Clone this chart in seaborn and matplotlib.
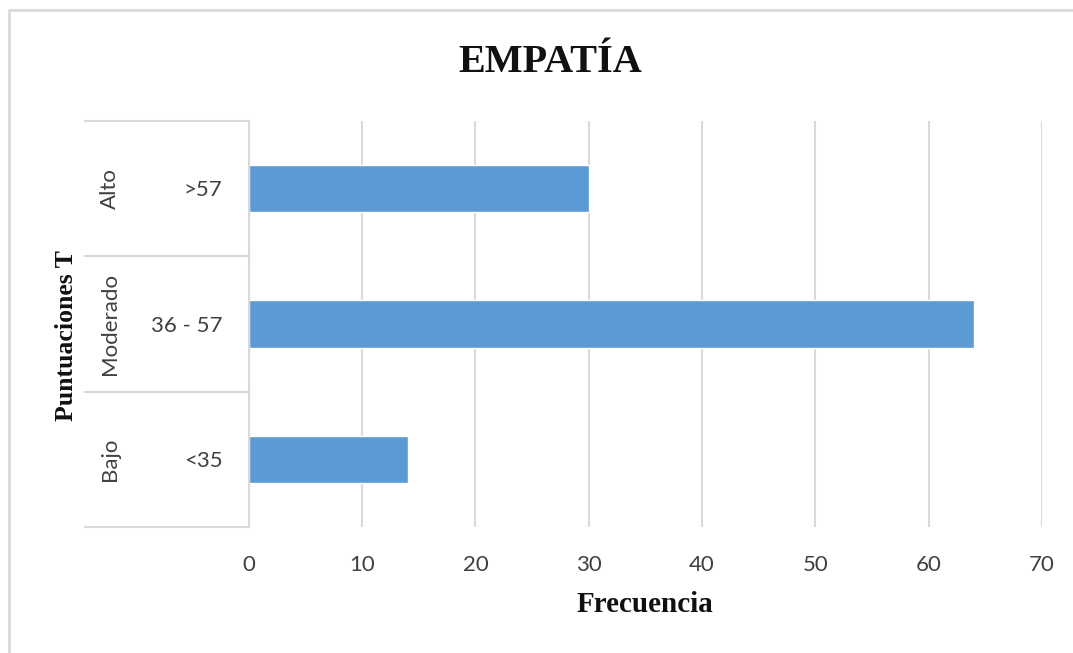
import pandas as pd
import matplotlib.pyplot as plt
import matplotlib.transforms as mtransforms
from matplotlib.patches import Rectangle
import seaborn as sns

# data (top to bottom)
niveles = ["Alto", "Moderado", "Bajo"]
rangos = [">57", "36 - 57", "<35"]
frecuencia = [30, 64, 14]

df = pd.DataFrame({"nivel": niveles, "rango": rangos, "frecuencia": frecuencia})

sns.set_theme(style="white")
plt.rcParams["font.family"] = ["Lato", "DejaVu Sans"]

fig = plt.figure(figsize=(10.73, 6.53), dpi=100)
ax = fig.add_axes([0.232, 0.193, 0.739, 0.622])

sns.barplot(data=df, x="frecuencia", y="rango", orient="h", color="#5b9bd5",
            saturation=1, width=0.35, ax=ax)

ax.set_xlim(0, 70)
ax.set_xticks(range(0, 71, 10))
ax.set_ylim(2.5, -0.5)
ax.grid(axis="x", color="#d9d9d9", linewidth=1.5)
ax.set_axisbelow(True)
for side in ["top", "right", "bottom"]:
    ax.spines[side].set_visible(False)
ax.spines["left"].set_color("#d9d9d9")
ax.spines["left"].set_linewidth(1.5)

ax.tick_params(axis="x", length=0, pad=20, labelsize=16, labelcolor="#404040")
ax.tick_params(axis="y", length=0, pad=19, labelsize=16, labelcolor="#404040")

ax.set_xlabel("Frecuencia", family="Liberation Serif", fontweight="bold",
              fontsize=21, color="#111111")
ax.xaxis.set_label_coords(0.5, -0.192)
ax.xaxis.label.set_va("center")
ax.set_ylabel("")

# outer category labels and separators
trans = mtransforms.blended_transform_factory(ax.transAxes, ax.transData)
for i, nivel in enumerate(niveles):
    ax.text(-0.175, i, nivel, transform=trans, rotation=90,
            ha="center", va="center", fontsize=16, color="#404040")
for b in [-0.5, 0.5, 1.5, 2.5]:
    ax.plot([-0.207, 0], [b, b], transform=trans, color="#d9d9d9",
            linewidth=1.5, clip_on=False)

fig.text(0.062, 0.486, "Puntuaciones T", rotation=90, ha="center", va="center",
         family="Liberation Serif", fontweight="bold", fontsize=18.5, color="#111111")

fig.text(0.513, 0.905, "EMPATÍA", ha="center", va="center",
         family="Liberation Serif", fontweight="bold", fontsize=29, color="#111111")

# light frame around the chart area
fig.patches.append(Rectangle((0.0085, -0.1), 1.2, 1.085, transform=fig.transFigure,
                             fill=False, edgecolor="#d9d9d9", linewidth=2))

fig.savefig("out.png", dpi=100)
